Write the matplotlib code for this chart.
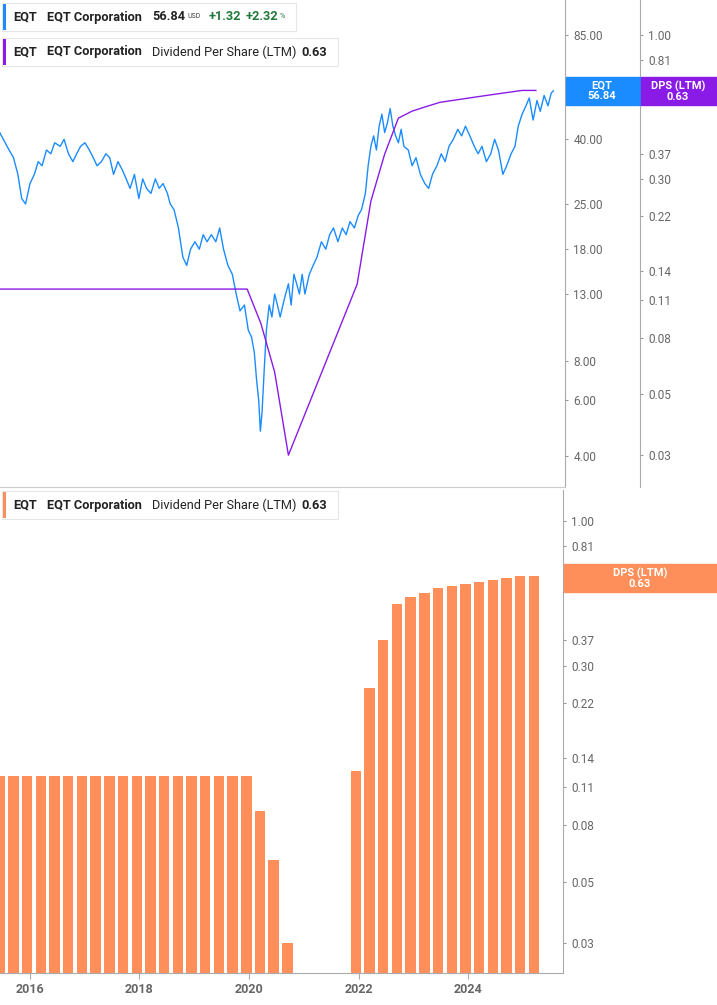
import matplotlib
matplotlib.use("Agg")
import matplotlib.pyplot as plt
from matplotlib.ticker import FixedLocator, NullLocator
import numpy as np

plt.rcParams["font.family"] = "Roboto"

# price estimates (decimal year, close)
price_years = [2015.45, 2015.55, 2015.62, 2015.7, 2015.78, 2015.85, 2015.92, 2016.0, 2016.08, 2016.15,
               2016.22, 2016.3, 2016.38, 2016.45, 2016.55, 2016.62, 2016.7, 2016.78, 2016.85, 2016.92,
               2017.0, 2017.08, 2017.15, 2017.22, 2017.3, 2017.38, 2017.45, 2017.52, 2017.6, 2017.68,
               2017.75, 2017.82, 2017.9, 2017.98, 2018.05, 2018.12, 2018.2, 2018.28, 2018.35, 2018.42,
               2018.5, 2018.55, 2018.62, 2018.7, 2018.78, 2018.85, 2018.92, 2019.0, 2019.08, 2019.15,
               2019.22, 2019.3, 2019.38, 2019.45, 2019.52, 2019.6, 2019.68, 2019.75, 2019.82, 2019.9,
               2019.97, 2020.03, 2020.08, 2020.12, 2020.16, 2020.19, 2020.22, 2020.26, 2020.3, 2020.35,
               2020.4, 2020.45, 2020.5, 2020.55, 2020.6, 2020.65, 2020.7, 2020.75, 2020.8, 2020.85,
               2020.9, 2020.95, 2021.0, 2021.08, 2021.15, 2021.22, 2021.3, 2021.38, 2021.45, 2021.52,
               2021.6, 2021.68, 2021.75, 2021.82, 2021.9, 2021.97, 2022.03, 2022.1, 2022.15, 2022.2,
               2022.25, 2022.3, 2022.35, 2022.4, 2022.45, 2022.5, 2022.55, 2022.6, 2022.65, 2022.7,
               2022.75, 2022.8, 2022.88, 2022.95, 2023.02, 2023.1, 2023.18, 2023.25, 2023.32, 2023.4,
               2023.48, 2023.55, 2023.62, 2023.7, 2023.78, 2023.85, 2023.92, 2024.0, 2024.08, 2024.15,
               2024.22, 2024.3, 2024.38, 2024.45, 2024.52, 2024.6, 2024.67, 2024.75, 2024.82, 2024.88,
               2024.95, 2025.02, 2025.08, 2025.15, 2025.22, 2025.28, 2025.35, 2025.42, 2025.48, 2025.52]
price_vals = [42, 39, 37, 35, 31, 26, 25, 29, 31, 34,
              33, 37, 36, 39, 38, 40, 36, 34, 36, 38,
              39, 37, 35, 33, 34, 36, 35, 31, 34, 32,
              30, 28, 31, 26, 30, 28, 27, 30, 28, 29,
              27, 25, 24, 21, 17, 16, 18, 19, 18, 20,
              19, 20, 19, 21, 18, 16, 15, 13, 11.5, 12,
              10, 9.5, 8.5, 7, 6, 4.8, 5.5, 7.5, 10, 12,
              11, 13, 12, 11, 12, 13, 14, 12, 15, 14,
              13, 15, 13, 15, 16, 17, 19, 18, 20, 21,
              19, 21, 20, 22, 21, 23, 24, 27, 33, 38,
              41, 37, 44, 48, 42, 45, 50, 44, 41, 39,
              43, 38, 37, 33, 35, 31, 29, 28, 31, 33,
              36, 34, 38, 40, 43, 41, 44, 41, 38, 36,
              38, 34, 36, 40, 37, 31, 33, 36, 38, 44,
              48, 51, 54, 46, 53, 49, 55, 51, 56, 56.84]

# quarterly dividend per share (LTM)
dps_years = [2015.45 + 0.25 * k for k in range(40)]
dps_vals = [0.12] * 19 + [0.09, 0.06, 0.03, 0, 0, 0, 0,
            0.125, 0.25, 0.37, 0.50, 0.53, 0.55, 0.57, 0.58, 0.59, 0.60, 0.61, 0.62, 0.63, 0.63]

price_ticks = [85, 55, 40, 25, 18, 13, 8, 6, 4]
dps_ticks = [1.00, 0.81, 0.59, 0.37, 0.30, 0.22, 0.14, 0.11, 0.08, 0.05, 0.03]
year_ticks = [2016, 2018, 2020, 2022, 2024]

BLUE = "#1a8cff"
PURPLE = "#8a1be6"
ORANGE = "#ff8f5a"
GREY = "#666666"
W, H = 717, 1005

fig = plt.figure(figsize=(W / 100, H / 100), dpi=100)
xlim = (2015.455, 2025.73)


def style_right(ax, ticks, fmt):
    ax.set_yscale("log")
    ax.yaxis.set_major_locator(FixedLocator(ticks))
    ax.yaxis.set_minor_locator(NullLocator())
    ax.set_yticklabels([fmt % t for t in ticks])
    ax.yaxis.set_ticks_position("right")
    ax.yaxis.set_label_position("right")
    ax.tick_params(axis="y", which="both", right=True, left=False, labelright=True, labelleft=False,
                   length=2, colors="#999999", labelcolor=GREY, labelsize=8.5, pad=4)
    for s in ["top", "left", "bottom"]:
        ax.spines[s].set_visible(False)
    ax.spines["right"].set_color("#aaaaaa")


# top panel
ax = fig.add_axes([0, 1 - 487 / H, 565 / W, 487 / H])
ax2 = ax.twinx()
ax.plot(price_years, price_vals, color=BLUE, lw=1)
ax.set_xlim(*xlim)
ax.set_ylim(3.2, 110)
style_right(ax, price_ticks, "%.2f")
ax.set_xticks([])

px = [y for y, v in zip(dps_years, dps_vals) if v > 0]
pv = [v for v in dps_vals if v > 0]
ax2.plot(px, pv, color=PURPLE, lw=1)
ax2.set_ylim(0.023, 1.34)
ax2.set_xlim(*xlim)
style_right(ax2, dps_ticks, "%.2f")
ax2.spines["right"].set_position(("axes", 640 / 565))
ax.spines["bottom"].set_visible(True)
ax.spines["bottom"].set_color("#cccccc")

# value tags
fig.patches.append(plt.Rectangle((566 / W, 1 - 105 / H), 74 / W, 28 / H, transform=fig.transFigure,
                                 color=BLUE, zorder=3))
fig.patches.append(plt.Rectangle((641 / W, 1 - 105 / H), 76 / W, 28 / H, transform=fig.transFigure,
                                 color=PURPLE, zorder=3))
fig.text(602 / W, 1 - 91 / H, "EQT\n56.84", ha="center", va="center", color="white", fontsize=8,
         fontweight="bold", linespacing=1.0, zorder=4)
fig.text(678 / W, 1 - 91 / H, "DPS (LTM)\n0.63", ha="center", va="center", color="white", fontsize=8,
         fontweight="bold", linespacing=1.0, zorder=4)

# bottom panel
base = 0.0234
bx = fig.add_axes([0, 1 - 973 / H, 563 / W, (973 - 490) / H])
by = [y for y, v in zip(dps_years, dps_vals) if v > 0]
bh = [v - base for v in dps_vals if v > 0]
bx.bar(by, bh, width=0.19, color=ORANGE, bottom=base)
bx.set_xlim(*xlim)
bx.set_ylim(base, 1.29)
style_right(bx, dps_ticks, "%.2f")
bx.spines["bottom"].set_visible(True)
bx.spines["bottom"].set_color("#aaaaaa")
bx.set_xticks(year_ticks)
bx.set_xticklabels([str(y) for y in year_ticks])
bx.tick_params(axis="x", length=4, colors="#aaaaaa", labelcolor=GREY, labelsize=9)
for t in bx.get_xticklabels():
    t.set_fontweight("bold")
fig.patches.append(plt.Rectangle((564 / W, 1 - 592 / H), 153 / W, 28 / H, transform=fig.transFigure,
                                 color=ORANGE, zorder=3))
fig.text(640 / W, 1 - 578 / H, "DPS (LTM)\n0.63", ha="center", va="center", color="white", fontsize=8,
         fontweight="bold", linespacing=1.0, zorder=4)


# legend boxes
def legend_box(y, w, color, parts):
    fig.patches.append(plt.Rectangle((2 / W, 1 - (y + 14) / H), w / W, 28 / H, transform=fig.transFigure,
                                     fc="white", ec="#e6e6e6", lw=0.8, zorder=5))
    fig.patches.append(plt.Rectangle((3 / W, 1 - (y + 13) / H), 3 / W, 26 / H, transform=fig.transFigure,
                                     fc=color, ec="none", zorder=6))
    for x, s, c, wt, fs in parts:
        fig.text(x / W, 1 - y / H, s, color=c, fontweight=wt, fontsize=fs, va="center", zorder=7)


FS = 9.2
legend_box(17, 294, BLUE, [(13, "EQT", "#222222", "bold", FS), (47, "EQT Corporation", "#222222", "bold", FS),
                           (152, "56.84", "#222222", "bold", FS), (187, "USD", "#444444", "normal", 5),
                           (209, "+1.32", "#1f7a3a", "bold", FS), (246, "+2.32", "#1f7a3a", "bold", FS),
                           (280, "%", "#1f7a3a", "normal", 5)])
legend_box(52, 336, PURPLE, [(13, "EQT", "#222222", "bold", FS), (47, "EQT Corporation", "#222222", "bold", FS),
                             (152, "Dividend Per Share (LTM)", "#222222", "normal", FS),
                             (301, "0.63", "#222222", "bold", FS)])
legend_box(505, 336, ORANGE, [(13, "EQT", "#222222", "bold", FS), (47, "EQT Corporation", "#222222", "bold", FS),
                              (152, "Dividend Per Share (LTM)", "#222222", "normal", FS),
                              (301, "0.63", "#222222", "bold", FS)])

fig.savefig("out.png", dpi=100)
